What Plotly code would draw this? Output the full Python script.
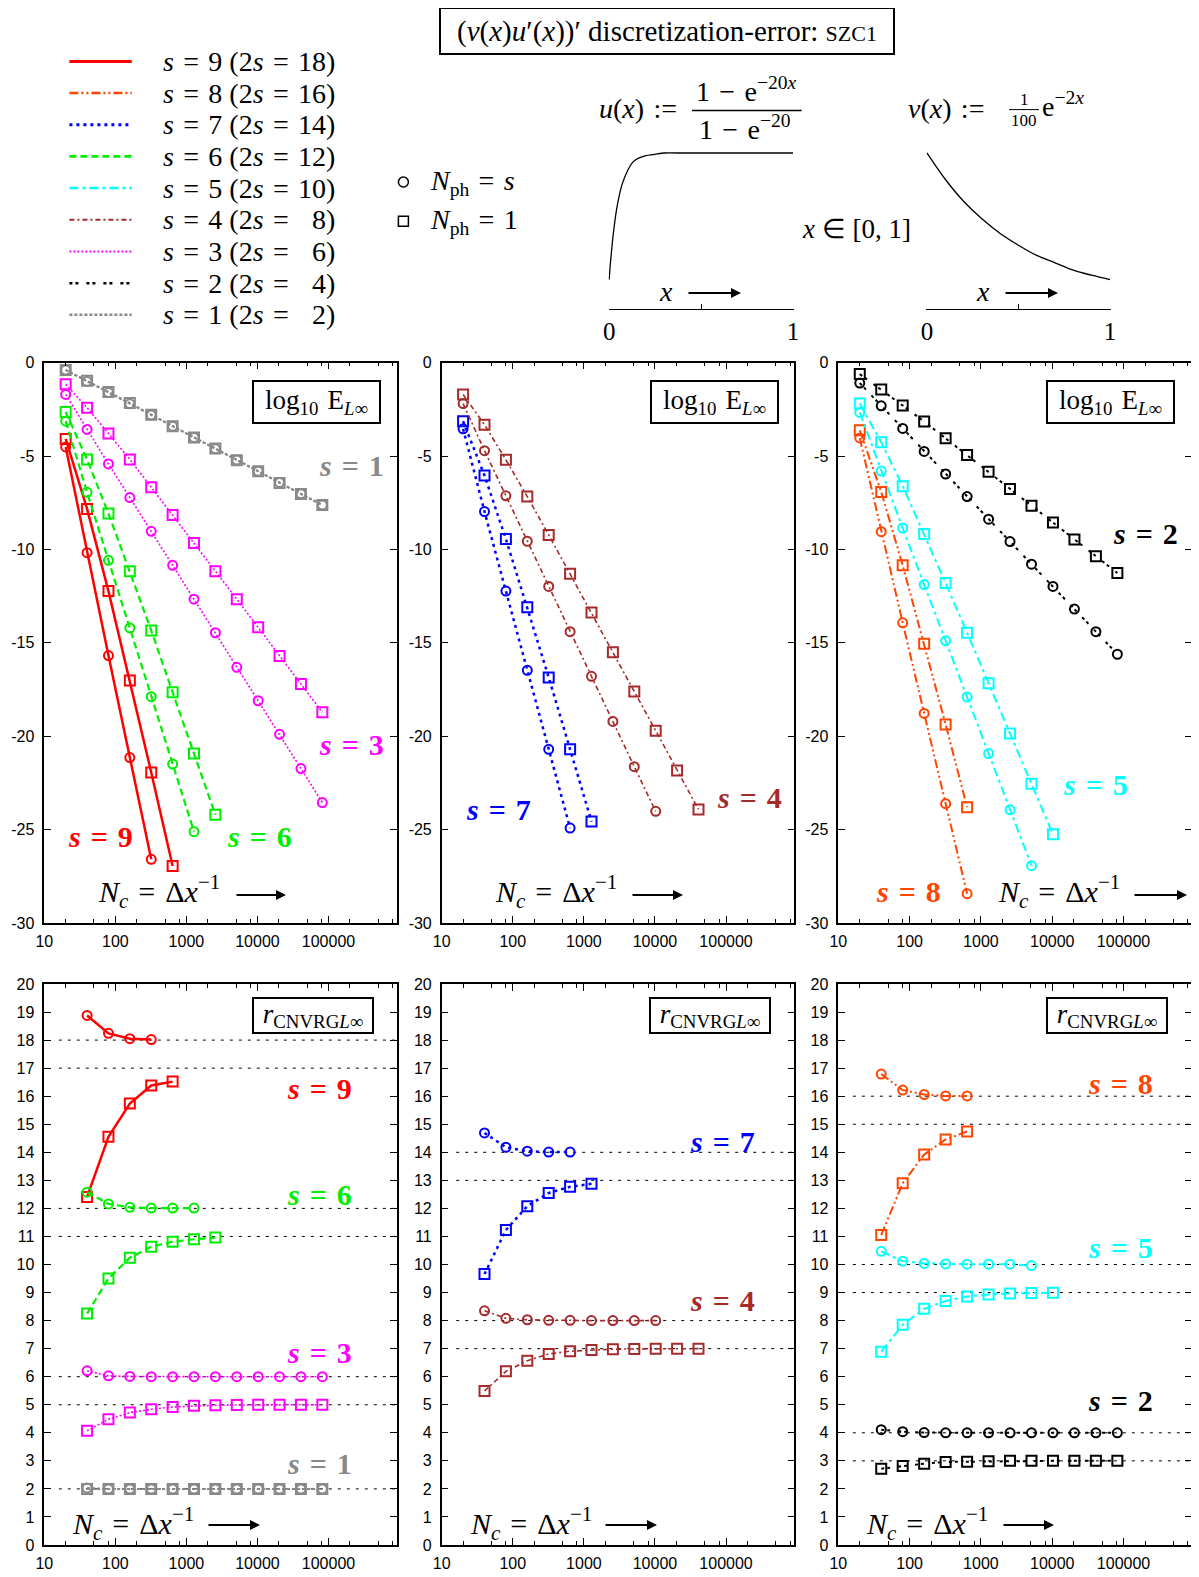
import plotly.graph_objects as go

# ---------------- data ----------------
N = [20, 40, 80, 160, 320, 640, 1280, 2560, 5120, 10240, 20480, 40960, 81920]

# log10 of max-norm error (circles: N_ph = s, squares: N_ph = 1)
err9_c = [-4.51, -10.17, -15.68, -21.14, -26.59]
err9_q = [-4.08, -7.83, -12.23, -17.02, -21.94, -26.95]
err8_c = [-4.03, -9.05, -13.93, -18.78, -23.61, -28.43]
err8_q = [-3.62, -6.92, -10.85, -15.05, -19.37, -23.80]
err7_c = [-3.54, -7.97, -12.23, -16.47, -20.70, -24.92]
err7_q = [-3.13, -6.04, -9.44, -13.09, -16.85, -20.70, -24.57]
err6_c = [-3.13, -6.94, -10.58, -14.20, -17.88, -21.49, -25.11]
err6_q = [-2.64, -5.18, -8.08, -11.16, -14.34, -17.65, -20.92, -24.21]
err5_c = [-2.66, -5.80, -8.85, -11.88, -14.89, -17.90, -20.93, -23.94, -26.93]
err5_q = [-2.19, -4.26, -6.61, -9.17, -11.80, -14.46, -17.16, -19.86, -22.55, -25.25]
err4_c = [-2.19, -4.71, -7.13, -9.56, -11.98, -14.40, -16.79, -19.21, -21.63, -24.02]
err4_q = [-1.70, -3.32, -5.20, -7.17, -9.22, -11.30, -13.37, -15.50, -17.61, -19.70, -21.83, -23.92]
err3_c = [-1.70, -3.57, -5.42, -7.22, -9.03, -10.85, -12.66, -14.46, -16.31, -18.10, -19.90, -21.73, -23.55]
err3_q = [-1.16, -2.41, -3.79, -5.18, -6.67, -8.15, -9.66, -11.16, -12.66, -14.16, -15.70, -17.20, -18.72]
err2_c = [-1.09, -2.31, -3.52, -4.75, -5.96, -7.17, -8.38, -9.58, -10.79, -11.98, -13.19, -14.40, -15.61]
err2_q = [-0.61, -1.43, -2.29, -3.15, -4.05, -4.94, -5.84, -6.76, -7.66, -8.56, -9.46, -10.36, -11.26]
err1_c = [-0.39, -1.00, -1.60, -2.20, -2.80, -3.40, -4.00, -4.61, -5.21, -5.81, -6.41, -7.02, -7.62]
err1_q = [-0.39, -0.96, -1.57, -2.16, -2.79, -3.40, -4.00, -4.59, -5.22, -5.81, -6.44, -7.03, -7.62]

# convergence rates (start at N = 40)
rate9_c = [18.88, 18.24, 18.05, 18.02]
rate9_q = [12.41, 14.55, 15.74, 16.38, 16.52]
rate8_c = [16.79, 16.22, 16.06, 16.01, 16.01]
rate8_q = [11.05, 12.90, 13.92, 14.46, 14.74]
rate7_c = [14.69, 14.18, 14.04, 14.01, 14.01]
rate7_q = [9.66, 11.23, 12.08, 12.55, 12.77, 12.88]
rate6_c = [12.58, 12.16, 12.04, 12.01, 12.01, 12.01]
rate6_q = [8.25, 9.50, 10.24, 10.63, 10.81, 10.90, 10.96]
rate5_c = [10.47, 10.12, 10.04, 10.02, 10.01, 10.01, 10.01, 9.96]
rate5_q = [6.89, 7.85, 8.42, 8.70, 8.86, 8.93, 8.97, 8.98, 8.99]
rate4_c = [8.35, 8.08, 8.03, 8.01, 8.01, 8.00, 8.00, 8.00, 8.00]
rate4_q = [5.49, 6.19, 6.57, 6.81, 6.91, 6.95, 6.98, 6.99, 7.00, 7.00, 7.00]
rate3_c = [6.21, 6.03, 6.01, 6.00, 6.00, 6.00, 6.00, 6.00, 6.00, 6.00, 6.00, 6.00]
rate3_q = [4.07, 4.48, 4.72, 4.84, 4.92, 4.96, 4.98, 4.99, 5.00, 5.00, 5.00, 5.00]
rate2_c = [4.11, 4.04, 4.01, 4.00, 4.00, 4.00, 4.00, 4.00, 4.00, 4.00, 4.00, 4.00]
rate2_q = [2.72, 2.82, 2.90, 2.96, 2.97, 2.99, 3.00, 3.00, 3.00, 3.00, 3.00, 3.00]
rate1_c = [2.03, 2.00, 2.00, 2.00, 2.00, 2.00, 2.00, 2.00, 2.00, 2.00, 2.00, 2.00]
rate1_q = [2.00, 2.00, 2.00, 2.00, 2.00, 2.00, 2.00, 2.00, 2.00, 2.00, 2.00, 2.00]

# reference levels (2s and 2s-1) per panel
ref_levels = {1: [18, 17, 12, 11, 6, 5, 2], 2: [14, 13, 8, 7], 3: [16, 15, 10, 9, 4, 3]}
panel_series = {1: [9, 6, 3, 1], 2: [7, 4], 3: [8, 5, 2]}

# sketch curves of u(x) and v(x)
u_x = [0, 0.005, 0.01, 0.02, 0.03, 0.04, 0.05, 0.07, 0.1, 0.13, 0.16, 0.2, 0.25, 0.3, 0.4, 1.0]
u_y = [0, 0.10, 0.18, 0.33, 0.45, 0.55, 0.63, 0.75, 0.86, 0.93, 0.96, 0.98, 0.99, 1.0, 1.0, 1.0]
v_x = [0, 0.1, 0.2, 0.3, 0.4, 0.5, 0.6, 0.7, 0.8, 0.9, 1.0]
v_y = [0.0100, 0.0082, 0.0067, 0.0055, 0.0045, 0.0037, 0.0030, 0.0025, 0.0020, 0.00165, 0.00135]

x_ticks = [10, 100, 1000, 10000, 100000]
x_ticktext = ["10", "100", "1000", "10000", "100000"]
err_ticks = [0, -5, -10, -15, -20, -25, -30]
err_ticktext = ["0", "-5", "-10", "-15", "-20", "-25", "-30"]
rate_ticks = list(range(0, 21))
rate_ticktext = [str(v) for v in rate_ticks]

err_c = {9: err9_c, 8: err8_c, 7: err7_c, 6: err6_c, 5: err5_c, 4: err4_c, 3: err3_c, 2: err2_c, 1: err1_c}
err_q = {9: err9_q, 8: err8_q, 7: err7_q, 6: err6_q, 5: err5_q, 4: err4_q, 3: err3_q, 2: err2_q, 1: err1_q}
rate_c = {9: rate9_c, 8: rate8_c, 7: rate7_c, 6: rate6_c, 5: rate5_c, 4: rate4_c, 3: rate3_c, 2: rate2_c, 1: rate1_c}
rate_q = {9: rate9_q, 8: rate8_q, 7: rate7_q, 6: rate6_q, 5: rate5_q, 4: rate4_q, 3: rate3_q, 2: rate2_q, 1: rate1_q}

# ---------------- styles ----------------
STY = {
    9: dict(color="#ff0000", dash="solid", width=2.5),
    8: dict(color="#ff4500", dash="9px,3px,2px,3px,2px,3px", width=2),
    7: dict(color="#0000ff", dash="3px,4px", width=2.5),
    6: dict(color="#00ee00", dash="7px,4px", width=2.2),
    5: dict(color="#00ffff", dash="9px,4px,3px,4px", width=2),
    4: dict(color="#a52a2a", dash="5px,3px,2px,3px", width=1.6),
    3: dict(color="#ff00ff", dash="2px,2px", width=1.6),
    2: dict(color="#000000", dash="3px,3px,3px,8px", width=2),
    1: dict(color="#888888", dash="3px,2px", width=2),
}

# page body has an 8px margin: the figure is sized to fill the window exactly
OFF = 8
W, H = 1199 - OFF, 1577 - OFF
def fx(px):
    return (px - OFF) / W
def fy(py):
    return 1 - (py - OFF) / H

SERIF = "Liberation Serif"
SANS = "Liberation Sans"
SP = "\u2004"  # math-like spacing around '='

XD = [(44.3, 396.7), (441.7, 794.3), (838.3, 1192.0)]
YD = [(362.7, 923.0), (984.0, 1545.0)]

fig = go.Figure()
layout = dict(width=W, height=H, margin=dict(l=0, r=0, t=0, b=0, pad=0), autosize=False,
              paper_bgcolor="white", plot_bgcolor="white", showlegend=False,
              font=dict(family=SERIF, size=24, color="black"))

minor_vals = []
for d in [10, 100, 1000, 10000, 100000]:
    minor_vals += [2 * d, 5 * d, 8 * d]

for r in range(2):
    for p in range(3):
        k = r * 3 + p + 1
        xa = dict(type="log", range=[1, 5.96], domain=[fx(XD[p][0]), fx(XD[p][1])], automargin=False,
                  anchor="y%d" % k, showline=True, linecolor="black", linewidth=1.5,
                  mirror="allticks", ticks="inside", ticklen=7, tickwidth=1.2, tickcolor="black",
                  tickmode="array", tickvals=x_ticks, ticktext=x_ticktext, ticklabelstandoff=3,
                  tickfont=dict(family=SANS, size=16, color="black"),
                  showgrid=False, zeroline=False,
                  minor=dict(tickmode="array", tickvals=minor_vals, ticks="inside", ticklen=4,
                             tickcolor="black", tickwidth=1, showgrid=False))
        if r == 0:
            yr, tv, tt = [-30, 0], err_ticks, err_ticktext
        else:
            yr, tv, tt = [0, 20], rate_ticks, rate_ticktext
        ya = dict(range=yr, domain=[fy(YD[r][1]), fy(YD[r][0])], anchor="x%d" % k, automargin=False,
                  showline=True, linecolor="black", linewidth=1.5, mirror="allticks",
                  ticks="inside", ticklen=7, tickwidth=1.2, tickcolor="black",
                  tickmode="array", tickvals=tv, ticktext=tt, ticklabelstandoff=5,
                  tickfont=dict(family=SANS, size=16, color="black"),
                  showgrid=False, zeroline=False)
        sfx = "" if k == 1 else str(k)
        layout["xaxis" + sfx] = xa
        layout["yaxis" + sfx] = ya

# reference lines in rate panels
for p in (1, 2, 3):
    k = 3 + p
    for lv in ref_levels[p]:
        fig.add_trace(go.Scatter(x=[16, 1e6], y=[lv, lv], mode="lines",
                                 line=dict(color="black", width=1, dash="3px,6px"),
                                 xaxis="x%d" % k, yaxis="y%d" % k, hoverinfo="skip"))

# data traces
for p, slist in panel_series.items():
    ke = p
    kr = 3 + p
    for s in slist:
        st = STY[s]
        for vals, rvals, sym in ((err_c[s], rate_c[s], "circle-open"), (err_q[s], rate_q[s], "square-open")):
            mk = dict(symbol=sym, size=9 if sym.startswith("circle") else 10,
                      color=st["color"], line=dict(color=st["color"], width=2))
            ln = dict(color=st["color"], dash=st["dash"], width=st["width"])
            fig.add_trace(go.Scatter(x=N[:len(vals)], y=vals, mode="lines+markers", line=ln, marker=mk,
                                     xaxis="x" if ke == 1 else "x%d" % ke,
                                     yaxis="y" if ke == 1 else "y%d" % ke,
                                     name="s=%d" % s))
            fig.add_trace(go.Scatter(x=N[1:1 + len(rvals)], y=rvals, mode="lines+markers", line=ln, marker=mk,
                                     xaxis="x%d" % kr, yaxis="y%d" % kr, name="s=%d" % s))

# mini sketch plots u(x), v(x)
U_XD = (608.6, 793.6)
V_XD = (926.4, 1110.5)
MINI_YD = (152.0, 308.8)
for k, xd, yr in ((7, U_XD, [-0.2305, 1.008]), (8, V_XD, [-0.00064, 0.01006])):
    layout["xaxis%d" % k] = dict(range=[-0.003, 1.003], domain=[fx(xd[0]), fx(xd[1])], anchor="y%d" % k,
                                 automargin=False,
                                 showline=True, linecolor="black", linewidth=1.3, mirror=False,
                                 ticks="inside", ticklen=5, tickwidth=1, tickcolor="black",
                                 tickmode="array", tickvals=[0, 1], ticktext=["0", "1"],
                                 minor=dict(tickmode="array", tickvals=[0.5], ticks="inside", ticklen=5,
                                            tickcolor="black", tickwidth=1),
                                 tickfont=dict(family=SERIF, size=25, color="black"),
                                 showgrid=False, zeroline=False)
    layout["yaxis%d" % k] = dict(range=yr, domain=[fy(MINI_YD[1]), fy(MINI_YD[0])], anchor="x%d" % k,
                                 automargin=False, visible=False, showgrid=False, zeroline=False)
fig.add_trace(go.Scatter(x=u_x, y=u_y, mode="lines", line=dict(color="black", width=1.3, shape="spline", smoothing=0.5),
                         xaxis="x7", yaxis="y7"))
fig.add_trace(go.Scatter(x=v_x, y=v_y, mode="lines", line=dict(color="black", width=1.3, shape="spline"),
                         xaxis="x8", yaxis="y8"))

ann = []
shapes = []

def text(px, py, t, size=24, xanchor="center", color="black", **kw):
    ann.append(dict(xref="paper", yref="paper", x=fx(px), y=fy(py), text=t, showarrow=False,
                    xanchor=xanchor, yanchor="middle", font=dict(family=SERIF, size=size, color=color), **kw))

def arrow(px0, px1, py, width=2):
    ann.append(dict(xref="paper", yref="paper", x=fx(px1), y=fy(py), ax=px0 - px1, ay=0, text="",
                    showarrow=True, arrowhead=2, arrowsize=1, arrowwidth=width, arrowcolor="black"))

# title box
text(666.9, 31.5, "(<i>v</i>(<i>x</i>)<i>u</i>′(<i>x</i>))′ discretization-error: <span style='font-size:22px'>SZC1</span>",
     size=29, bordercolor="black", borderwidth=2, borderpad=2, bgcolor="white", width=448, height=40)

# legend of line styles
for i, s in enumerate([9, 8, 7, 6, 5, 4, 3, 2, 1]):
    yy = 61.4 + i * 31.68
    st = STY[s]
    shapes.append(dict(type="line", xref="paper", yref="paper", x0=fx(69.4), x1=fx(131.8), y0=fy(yy), y1=fy(yy),
                       line=dict(color=st["color"], width=st["width"] + 0.5, dash=st["dash"])))
    two_s = str(2 * s) if 2 * s >= 10 else "\u2007" + str(2 * s)
    text(161, yy, "<i>s</i>{0}={0}{1} (2<i>s</i>{0}={0}{2})".format(SP, s, two_s), size=28, xanchor="left")

# N_ph legend
shapes.append(dict(type="circle", xref="paper", yref="paper", x0=fx(398.4), x1=fx(408.4), y0=fy(187), y1=fy(177),
                   line=dict(color="black", width=1.5)))
shapes.append(dict(type="rect", xref="paper", yref="paper", x0=fx(398.4), x1=fx(408.4), y0=fy(226.3), y1=fy(216.3),
                   line=dict(color="black", width=1.5)))
text(427.5, 182, "<i>N</i><sub>ph</sub>{0}={0}<i>s</i>".format(SP), size=28, xanchor="left")
text(427.5, 221.3, "<i>N</i><sub>ph</sub>{0}={0}1".format(SP), size=28, xanchor="left")

# u(x), v(x) definitions
text(638, 108.6, "<i>u</i>(<i>x</i>){0}:=".format(SP), size=28)
text(746.4, 89.5, "1{0}−{0}e<sup>−20<i>x</i></sup>".format(SP), size=28)
shapes.append(dict(type="line", xref="paper", yref="paper", x0=fx(692), x1=fx(801.7), y0=fy(110.6), y1=fy(110.6),
                   line=dict(color="black", width=1.5)))
text(745.4, 127.5, "1{0}−{0}e<sup>−20</sup>".format(SP), size=28)
text(946, 108.6, "<i>v</i>(<i>x</i>){0}:=".format(SP), size=28)
text(1024, 99.0, "1", size=17)
shapes.append(dict(type="line", xref="paper", yref="paper", x0=fx(1009), x1=fx(1039), y0=fy(109.6), y1=fy(109.6),
                   line=dict(color="black", width=1)))
text(1024, 120.5, "100", size=17)
text(1040, 104.6, "e<sup>−2<i>x</i></sup>", size=28, xanchor="left")
text(856, 229.3, "<i>x</i> ∈ [0, 1]", size=27)

# x arrows on sketches
text(666, 292, "<i>x</i>", size=28)
arrow(687, 741, 293, 2)
text(983, 292, "<i>x</i>", size=28)
arrow(1004, 1058, 293, 2)

# panel label boxes
for p in range(3):
    x0 = XD[p][0]
    text(x0 + 272.6, 402.3, "log<sub>10</sub>{0}E<sub><i>L</i>∞</sub>".format(SP), size=27,
         bordercolor="black", borderwidth=2, borderpad=1, bgcolor="white", width=123, height=38)
    text(x0 + 268.5, 1015.4, "<i>r</i><sub>CNVRG<i>L</i>∞</sub>", size=27,
         bordercolor="black", borderwidth=2, borderpad=1, bgcolor="white", width=116, height=31)

# N_c labels and arrows
NC = "<i>N<sub>c</sub></i>{0}={0}Δ<i>x</i><sup>−1</sup>".format(SP)
for (tx, ty, a0, a1, ay) in [(159, 891, 235, 286, 895), (556, 891, 631, 683, 895), (1059, 891, 1133, 1187, 895),
                             (132.7, 1523, 207, 260, 1525), (531, 1523, 604, 657, 1525), (927, 1523, 1002, 1054, 1525)]:
    text(tx, ty, NC, size=30)
    arrow(a0, a1, ay, 2)

# series labels in data coordinates
def slabel(k, xl, yv, s):
    ann.append(dict(xref="x" if k == 1 else "x%d" % k, yref="y" if k == 1 else "y%d" % k, x=xl, y=yv,
                    text="<b><i>s</i>{0}={0}{1}</b>".format(SP, s), showarrow=False, xanchor="center", yanchor="middle",
                    font=dict(family=SERIF, size=30, color=STY[s]["color"])))

slabel(1, 5.33, -5.5, 1)
slabel(1, 5.33, -20.43, 3)
slabel(1, 1.79, -25.39, 9)
slabel(1, 4.03, -25.39, 6)
slabel(2, 1.80, -23.93, 7)
slabel(2, 5.33, -23.28, 4)
slabel(3, 5.31, -9.12, 2)
slabel(3, 4.60, -22.59, 5)
slabel(3, 1.985, -28.29, 8)
slabel(4, 4.876, 16.28, 9)
slabel(4, 4.876, 12.48, 6)
slabel(4, 4.876, 6.85, 3)
slabel(4, 4.876, 2.91, 1)
slabel(5, 4.946, 14.38, 7)
slabel(5, 4.946, 8.71, 4)
slabel(6, 4.955, 16.46, 8)
slabel(6, 4.955, 10.61, 5)
slabel(6, 4.955, 5.16, 2)

layout["annotations"] = ann
layout["shapes"] = shapes
fig.update_layout(**layout)
fig.write_html("out.html")
